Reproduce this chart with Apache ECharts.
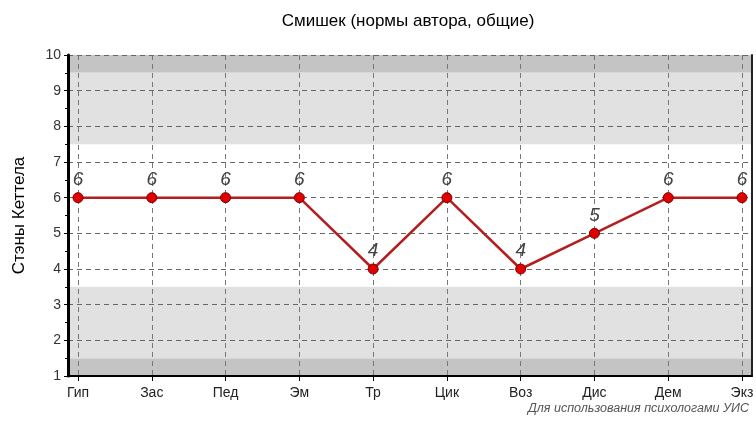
<!DOCTYPE html>
<html>
<head>
<meta charset="utf-8">
<script src="https://cdn.jsdelivr.net/npm/echarts@6/dist/echarts.min.js"></script>
<style>
  html, body { margin: 0; padding: 0; background: #fff; }
  #chart { width: 756px; height: 433px; }
</style>
</head>
<body>
<div id="chart"></div>
<script>
// Шкалы и значения
const categories = ['Гип', 'Зас', 'Пед', 'Эм', 'Тр', 'Цик', 'Воз', 'Дис', 'Дем', 'Экз'];
const stenValues = [6, 6, 6, 6, 4, 6, 4, 5, 6, 6];
// Полосы фона: [от, до]
const darkBands = [[9.5, 10], [1, 1.5]];
const lightBands = [[7.5, 9.5], [1.5, 3.5]];

const font = 'Liberation Sans, Arial, sans-serif';

function bandData(bands, color) {
    return bands.map(b => [
        { yAxis: b[0], itemStyle: { color: color } },
        { yAxis: b[1] }
    ]);
}

document.addEventListener('DOMContentLoaded', function() {
    const chart = echarts.init(document.getElementById('chart'));
    chart.setOption({
        animation: false,
        textStyle: { fontFamily: font },
        title: {
            text: 'Смишек (нормы автора, общие)',
            left: 403,
            textAlign: 'center',
            top: 8,
            textStyle: { fontSize: 17, fontWeight: 'normal', color: '#000', fontFamily: font }
        },
        graphic: [{
            type: 'text',
            right: 7,
            top: 402,
            style: {
                text: 'Для использования психологами УИС',
                font: 'italic 12.5px ' + font,
                fill: '#555'
            }
        }],
        grid: [
            { left: 68, right: 4, top: 55, bottom: 57, outerBoundsMode: 'none', containLabel: false },
            { left: 78, right: 14, top: 55, bottom: 57, outerBoundsMode: 'none', containLabel: false }
        ],
        xAxis: [
            {
                gridIndex: 0, type: 'value', min: 0, max: 1, z: 4,
                axisLine: { show: true, onZero: false, lineStyle: { color: '#000', width: 2 } },
                axisTick: { show: false }, axisLabel: { show: false }, splitLine: { show: false }
            },
            {
                gridIndex: 1, type: 'category', data: categories, boundaryGap: false, z: 3,
                axisLine: { show: false },
                axisTick: { show: true, inside: false, length: 5, lineStyle: { color: '#000' } },
                minorTick: { show: true, splitNumber: 5, length: 3, lineStyle: { color: '#000' } },
                axisLabel: { margin: 10, fontSize: 14, color: '#222' },
                splitLine: { show: true, lineStyle: { color: '#777', type: [5, 4] } }
            }
        ],
        yAxis: [
            {
                gridIndex: 0, type: 'value', min: 1, max: 10, interval: 1, z: 3,
                name: 'Стэны Кеттела', nameLocation: 'middle', nameGap: 40,
                nameTextStyle: { fontSize: 17, color: '#000' },
                axisLine: { show: true, onZero: false, lineStyle: { color: '#000', width: 3 } },
                axisTick: { show: true, length: 4, lineStyle: { color: '#000' } },
                minorTick: { show: true, splitNumber: 2, length: 3, lineStyle: { color: '#000' } },
                axisLabel: { fontSize: 14, color: '#333', margin: 7 },
                splitLine: { show: true, lineStyle: { color: '#666', type: [5, 4] } }
            },
            {
                gridIndex: 1, type: 'value', min: 1, max: 10, show: false
            },
            {
                gridIndex: 0, type: 'value', min: 1, max: 10, position: 'right', z: 4,
                axisLine: { show: true, onZero: false, lineStyle: { color: '#222', width: 2 } },
                axisTick: { show: false }, axisLabel: { show: false }, splitLine: { show: false }
            }
        ],
        series: [
            {
                type: 'line',
                xAxisIndex: 0,
                yAxisIndex: 0,
                data: [],
                silent: true,
                markArea: {
                    silent: true,
                    data: bandData(darkBands, '#c4c4c4').concat(bandData(lightBands, '#e1e1e1'))
                }
            },
            {
                type: 'line',
                xAxisIndex: 1,
                yAxisIndex: 1,
                z: 10,
                data: stenValues,
                symbol: 'circle',
                symbolSize: 10,
                lineStyle: { color: '#b41e1e', width: 2.5 },
                itemStyle: { color: '#e00000', borderColor: '#7a0000', borderWidth: 1 },
                label: {
                    show: true,
                    position: 'top',
                    distance: 3,
                    fontSize: 19,
                    fontStyle: 'italic',
                    color: '#444'
                }
            }
        ]
    });
});
</script>
</body>
</html>
